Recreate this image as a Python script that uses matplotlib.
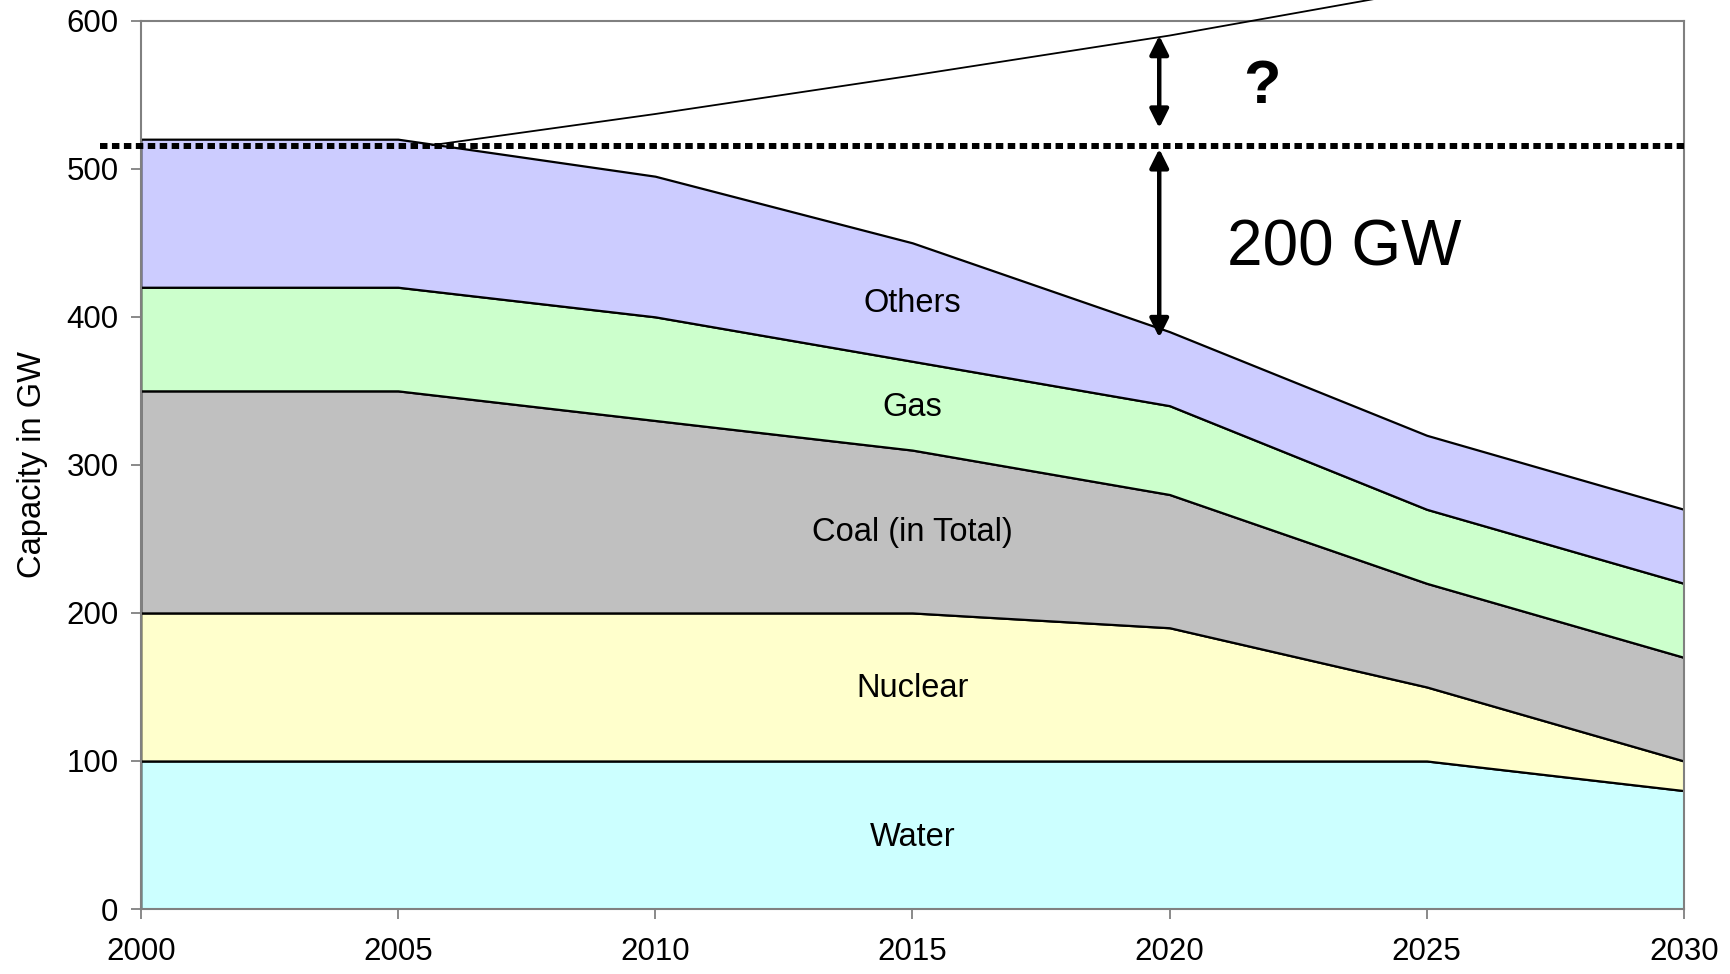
import matplotlib
matplotlib.use("Agg")
import matplotlib.pyplot as plt
import numpy as np

plt.rcParams['font.family'] = ['Liberation Sans', 'DejaVu Sans']

years = [2000, 2005, 2010, 2015, 2020, 2025, 2030]
water = [100, 100, 100, 100, 100, 100, 80]
nuclear = [100, 100, 100, 100, 90, 50, 20]
coal = [150, 150, 130, 110, 90, 70, 70]
gas = [70, 70, 70, 60, 60, 50, 50]
others = [100, 100, 95, 80, 50, 50, 50]

series_names = ["Water", "Nuclear", "Coal (in Total)", "Gas", "Others"]
series_colors = ["#CCFFFF", "#FFFFCC", "#C0C0C0", "#CCFFCC", "#CCCCFF"]
label_y = [48, 149, 254, 339, 409]

demand_years = [2005.67, 2010, 2015, 2020, 2025]
demand_vals = [516, 537, 563, 590, 621]

reference_level = 515.5
gap_year = 2019.8
gap_upper = (590, 527.5)
gap_lower = (513.5, 386)

fig = plt.figure(figsize=(17.31, 9.74), dpi=100)
ax = fig.add_axes([0.0813, 0.0667, 0.8915, 0.912])

stack = np.vstack([water, nuclear, coal, gas, others])
cum = np.cumsum(stack, axis=0)
bottom = np.zeros(len(years))
for i, (name, col) in enumerate(zip(series_names, series_colors)):
    top = cum[i]
    ax.fill_between(years, bottom, top, facecolor=col, edgecolor='black',
                    linewidth=1.6, zorder=2)
    ax.text(2015, label_y[i], name, ha='center', va='center', fontsize=23.5, zorder=5)
    bottom = top

ax.plot(demand_years, demand_vals, color='black', linewidth=1.3, clip_on=False, zorder=4)

ax.plot([1999.2, 2030], [reference_level, reference_level], color='black',
        linewidth=4.3, linestyle=(0, (1.25, 0.75)), dash_capstyle='butt',
        clip_on=False, zorder=6)

for (y0, y1) in [gap_upper, gap_lower]:
    ax.annotate('', xy=(gap_year, y0), xytext=(gap_year, y1),
                arrowprops=dict(arrowstyle='<|-|>', color='black', lw=3.2,
                                mutation_scale=28, shrinkA=0, shrinkB=0),
                zorder=7)

ax.text(2021.8, 555, '?', ha='center', va='center', fontsize=44, fontweight='bold')
ax.text(2023.4, 446, '200 GW', ha='center', va='center', fontsize=46)

ax.set_xlim(2000, 2030)
ax.set_ylim(0, 600)
ax.set_xticks(years)
ax.set_yticks(range(0, 601, 100))
ax.tick_params(axis='both', colors='#808080', labelcolor='black', labelsize=22.5,
               length=7, width=1.3, direction='out')
ax.tick_params(axis='y', pad=9)
ax.tick_params(axis='x', pad=13)
for s in ax.spines.values():
    s.set_color('#808080')
    s.set_linewidth(1.5)
ax.set_ylabel('Capacity in GW', fontsize=23.5, labelpad=13)

fig.savefig('out.png', dpi=100)
